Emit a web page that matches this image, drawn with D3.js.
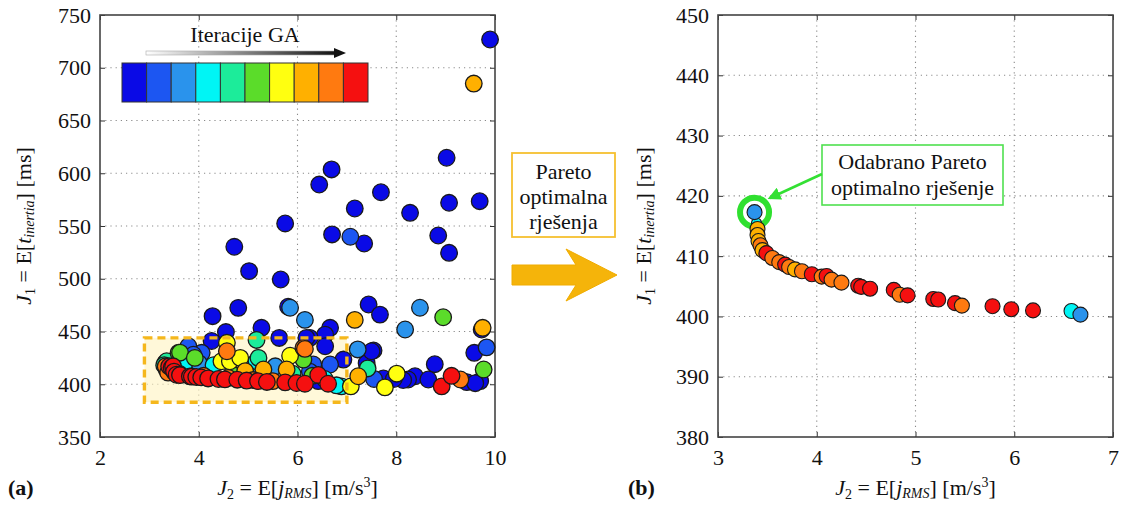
<!DOCTYPE html>
<html><head><meta charset="utf-8">
<script src="https://cdn.jsdelivr.net/npm/d3@7"></script>
<style>
body{margin:0;background:#fff;}
svg{display:block;}
svg text{font-family:"Liberation Serif","Times New Roman",serif !important;}
</style></head>
<body>
<svg id="chart" width="1123" height="508"></svg>
<script>
// ---------- DATA ----------
const palette = ["#0a0ae6","#1c56f2","#2a93ec","#00f5f5","#1cec9a","#5bdc2a","#ffff10","#ffb000","#ff7a10","#f51010"];
const legendTitle = "Iteracije GA";

const leftXTicks = [2,4,6,8,10];
const leftYTicks = [350,400,450,500,550,600,650,700,750];
const rightXTicks = [3,4,5,6,7];
const rightYTicks = [380,390,400,410,420,430,440,450];

// Panel (a): all GA solutions (J2, J1, iteration colour index)
const leftX = [9.90,9.57,9.02,6.69,6.44,7.69,7.16,9.07,9.69,8.28,5.75,6.70,7.07,7.35,8.85,9.07,4.72,5.02,5.66,4.80,4.28,7.44,7.67,5.81,5.85,6.15,8.48,8.95,7.16,
  4.55,5.27,6.66,6.56,6.25,4.26,5.17,5.63,6.18,6.12,8.18,9.73,9.75,9.58,9.83,9.77,8.78,7.54,7.22,7.40,7.42,7.23,7.08,7.77,8.01,8.38,8.24,8.65,8.92,9.12,9.30,9.43,9.70,9.60,7.74,8.14,7.95,7.55,6.89,6.79,6.56,6.93,6.32,6.66,6.25,6.42,7.50,
  4.57,4.57,4.46,4.80,4.63,4.84,5.17,5.21,5.85,6.12,6.15,3.79,4.06,3.59,3.62,3.89,3.92,3.32,3.35,5.31,5.78,4.94,5.05,5.55,4.30,3.70,4.00,4.70,5.90,6.30,6.55,3.30,3.36,3.42,
  3.40,3.45,3.48,3.50,3.55,3.62,3.82,3.86,3.95,4.05,4.19,4.40,4.53,4.78,4.97,5.20,5.38,5.75,5.98,6.15,6.42,6.62,3.35,3.33,3.38,3.60,4.10,4.60,5.10,5.50];
const leftY = [726.8,685,614.7,603.6,589.3,582,566.6,572,573.5,562.5,552.4,542,539.8,533.4,541,524.6,530.3,507.2,499.3,472.4,464.5,475.6,466,473.5,472.5,461,472.5,463.5,461,
  449.5,453.5,453.5,447,444,441,442,443.9,443.9,434.5,451.9,451.9,453.5,429.8,435,414,419,432,433,420,415,407.6,398,397,410,407.6,404.5,404.5,398,408,404.5,402,403,401,405.5,404,405,405,398,399,436,423.4,418.7,418.7,412,403,431.3,
  439.3,431.3,421.8,423.4,421.8,425,421.8,425,427,423.4,433.5,436,429.8,429.8,430,428,425,420,421.8,414,414,412.4,416,417,418,418,420,414,410,408,405,418,416,413,
  417,415.6,417,412,409,408.7,407.5,407.3,406.9,406.5,405.5,405,404.6,404.3,403.5,403,402.2,401.8,401.2,400.5,408.8,400.5,414,417,411,410,408,406,404,403];
const leftC = [0,7,0,0,0,0,0,0,0,0,0,0,1,0,0,0,0,0,0,0,0,0,0,0,2,2,2,5,7,
  0,0,0,0,0,0,4,0,0,8,2,0,7,0,1,5,0,0,2,0,4,7,6,6,6,0,0,0,9,9,8,0,0,0,0,0,0,1,3,3,0,0,1,1,1,0,0,
  6,8,6,6,6,6,3,4,6,5,8,1,1,5,5,1,5,4,4,7,7,7,2,2,3,3,2,5,4,5,3,4,5,3,
  9,9,9,9,9,9,9,9,9,9,9,9,9,9,9,9,9,9,9,9,9,9,8,8,8,8,8,8,8,8];

// Panel (b): Pareto optimal solutions
const rightX = [3.39,3.40,3.40,3.41,3.43,3.45,3.49,3.55,3.62,3.68,3.72,3.78,3.85,3.95,4.05,4.10,4.15,4.25,4.42,4.45,4.54,4.78,4.84,4.92,5.18,5.23,5.40,5.47,5.78,5.97,6.19,6.58,6.67,3.37];
const rightY = [415.5,414.5,413.5,412.5,411.8,411.0,410.5,409.7,409.0,408.6,408.2,407.8,407.5,407.0,406.6,406.7,406.1,405.6,405.1,404.9,404.6,404.4,403.6,403.5,402.9,402.8,402.2,401.8,401.7,401.2,401.0,400.9,400.3,417.3];
const rightC = [3,7,7,7,8,7,9,8,8,9,8,7,8,9,8,9,8,8,9,9,9,9,8,9,9,9,9,8,9,9,9,3,2,2];
const selectedIndex = 33;

const paretoBoxLines = ["Pareto","optimalna","rješenja"];
const annotationLines = ["Odabrano Pareto","optimalno rješenje"];
const highlightRect = {x0:2.9, x1:7.0, y0:383, y1:444};

// ---------- DRAWING ----------
const svg = d3.select("#chart");
const FONT = 22;
const SUB = 14;

function panel(opts){
  const {x, y, xTicks, yTicks, tag} = opts;
  const g = svg.append("g");
  const [x0,x1] = x.range(), [y0,y1] = y.range();
  const grid = g.append("g").attr("stroke","#8a8a8a").attr("stroke-width",1.1).attr("stroke-dasharray","1.2,4");
  grid.selectAll("line.gx").data(xTicks.slice(1,-1)).join("line")
    .attr("x1",d=>x(d)).attr("x2",d=>x(d)).attr("y1",y1).attr("y2",y0);
  grid.selectAll("line.gy").data(yTicks.slice(1,-1)).join("line")
    .attr("y1",d=>y(d)).attr("y2",d=>y(d)).attr("x1",x0).attr("x2",x1);
  const ax = g.append("g").attr("transform",`translate(0,${y0})`)
    .call(d3.axisBottom(x).tickValues(xTicks).tickFormat(d3.format("d")).tickSizeInner(-5).tickSizeOuter(0).tickPadding(12));
  const ay = g.append("g").attr("transform",`translate(${x0},0)`)
    .call(d3.axisLeft(y).tickValues(yTicks).tickFormat(d3.format("d")).tickSizeInner(-5).tickSizeOuter(0).tickPadding(9));
  const at = g.append("g").attr("transform",`translate(0,${y1})`)
    .call(d3.axisTop(x).tickValues(xTicks).tickFormat("").tickSizeInner(-5).tickSizeOuter(0));
  const ar = g.append("g").attr("transform",`translate(${x1},0)`)
    .call(d3.axisRight(y).tickValues(yTicks).tickFormat("").tickSizeInner(-5).tickSizeOuter(0));
  [ax,ay,at,ar].forEach(a=>{
    a.attr("font-family",null).attr("font-size",null);
    a.select(".domain").remove();
    a.selectAll("line").attr("stroke","#333");
    a.selectAll("text").style("font-size",FONT+"px").attr("fill","#111");
  });
  ax.selectAll("text").attr("dy","0.71em");
  g.append("rect").attr("x",x0).attr("y",y1).attr("width",x1-x0).attr("height",y0-y1)
    .attr("fill","none").attr("stroke","#444").attr("stroke-width",1.6);
  const cx = (x0+x1)/2;
  const xt = svg.append("text").attr("x",cx).attr("y",495).attr("text-anchor","middle").attr("font-size",FONT).attr("fill","#111");
  xt.append("tspan").attr("font-style","italic").text("J");
  xt.append("tspan").attr("font-size",SUB).attr("dy",4).text("2");
  xt.append("tspan").attr("dy",-4).text(" = E[");
  xt.append("tspan").attr("font-style","italic").text("j");
  xt.append("tspan").attr("font-style","italic").attr("font-size",SUB).attr("dy",3).text("RMS");
  xt.append("tspan").attr("dy",-3).text("] [m/s");
  xt.append("tspan").attr("font-size",SUB).attr("dy",-8).text("3");
  xt.append("tspan").attr("dy",8).text("]");
  svg.append("text").attr("x",tag.x).attr("y",495).attr("font-weight","bold").attr("font-size",FONT).attr("fill","#111").text(tag.t);
  const cy = (y0+y1)/2;
  const yt = svg.append("text").attr("transform",`translate(${opts.ylx},${cy}) rotate(-90)`).attr("text-anchor","middle").attr("font-size",FONT).attr("fill","#111");
  yt.append("tspan").attr("font-style","italic").text("J");
  yt.append("tspan").attr("font-size",SUB).attr("dy",4).text("1");
  yt.append("tspan").attr("dy",-4).text(" = E[");
  yt.append("tspan").attr("font-style","italic").text("t");
  yt.append("tspan").attr("font-style","italic").attr("font-size",SUB).attr("dy",3).text("inertia");
  yt.append("tspan").attr("dy",-3).text("] [ms]");
  return g;
}

// ---- Panel (a)
const xa = d3.scaleLinear([2,10],[100,495]);
const ya = d3.scaleLinear([350,750],[437,15]);
const ga = panel({x:xa,y:ya,xTicks:leftXTicks,yTicks:leftYTicks,tag:{x:8,t:"(a)"},ylx:31});

ga.append("rect")
  .attr("x",xa(highlightRect.x0)).attr("y",ya(highlightRect.y1))
  .attr("width",xa(highlightRect.x1)-xa(highlightRect.x0)).attr("height",ya(highlightRect.y0)-ya(highlightRect.y1))
  .attr("fill","#fff3c0").attr("fill-opacity",0.6);

const leftData = leftX.map((d,i)=>({x:d,y:leftY[i],c:leftC[i],i}));
leftData.sort((a,b)=>a.c-b.c || a.i-b.i);
ga.append("g").selectAll("circle").data(leftData).join("circle")
  .attr("cx",d=>xa(d.x)).attr("cy",d=>ya(d.y)).attr("r",8.3)
  .attr("fill",d=>palette[d.c]).attr("stroke","#1a1a1a").attr("stroke-width",1.3);

ga.append("rect")
  .attr("x",xa(highlightRect.x0)).attr("y",ya(highlightRect.y1))
  .attr("width",xa(highlightRect.x1)-xa(highlightRect.x0)).attr("height",ya(highlightRect.y0)-ya(highlightRect.y1))
  .attr("fill","none").attr("stroke","#f5b71c").attr("stroke-width",3.4).attr("stroke-dasharray","8,5");

// legend
const lg = svg.append("g");
const lx = d3.scaleBand().domain(d3.range(palette.length)).range([122,368]);
lg.selectAll("rect").data(palette).join("rect")
  .attr("x",(d,i)=>lx(i)).attr("y",63).attr("width",lx.bandwidth()).attr("height",39)
  .attr("fill",d=>d).attr("stroke","#333").attr("stroke-width",1);
lg.append("text").attr("x",245).attr("y",42).attr("text-anchor","middle").attr("font-size",FONT).attr("fill","#111").text(legendTitle);
const defs = svg.append("defs");
const grad = defs.append("linearGradient").attr("id","gaGrad");
grad.append("stop").attr("offset","0%").attr("stop-color","#ffffff");
grad.append("stop").attr("offset","100%").attr("stop-color","#111");
lg.append("rect").attr("x",146).attr("y",51).attr("width",190).attr("height",4).attr("fill","url(#gaGrad)").attr("stroke","#aaa").attr("stroke-width",0.6);
lg.append("path").attr("d","M334,48 L346,53 L334,58 Z").attr("fill","#111");

// ---- Panel (b)
const xb = d3.scaleLinear([3,7],[718,1113]);
const yb = d3.scaleLinear([380,450],[437,15]);
const gb = panel({x:xb,y:yb,xTicks:rightXTicks,yTicks:rightYTicks,tag:{x:628,t:"(b)"},ylx:651});

const rightData = rightX.map((d,i)=>({x:d,y:rightY[i],c:rightC[i],i}));
gb.append("circle").attr("cx",xb(rightX[selectedIndex])).attr("cy",yb(rightY[selectedIndex])).attr("r",14.5)
  .attr("fill","none").attr("stroke","#2fe02f").attr("stroke-width",6);
gb.append("g").selectAll("circle").data(rightData).join("circle")
  .attr("cx",d=>xb(d.x)).attr("cy",d=>yb(d.y)).attr("r",d=>d.i===0?5:7.5)
  .attr("fill",d=>palette[d.c]).attr("stroke","#1a1a1a").attr("stroke-width",1.1);

// annotation box
const ab = svg.append("g");
ab.append("rect").attr("x",822).attr("y",145).attr("width",181).attr("height",60)
  .attr("fill","#fff").attr("stroke","#4fe04f").attr("stroke-width",1.6);
ab.selectAll("text").data(annotationLines).join("text")
  .attr("x",912.5).attr("y",(d,i)=>169+i*26).attr("text-anchor","middle").attr("font-size",FONT).attr("fill","#111").text(d=>d);
defs.append("marker").attr("id","gHead").attr("viewBox","0 0 10 10").attr("refX",8).attr("refY",5)
  .attr("markerWidth",5).attr("markerHeight",5).attr("orient","auto")
  .append("path").attr("d","M0,0 L10,5 L0,10 Z").attr("fill","#33e033");
ab.append("line").attr("x1",822).attr("y1",174).attr("x2",770).attr("y2",198)
  .attr("stroke","#33e033").attr("stroke-width",2.6).attr("marker-end","url(#gHead)");

// middle box and arrow
const mb = svg.append("g");
mb.append("rect").attr("x",512).attr("y",153).attr("width",103).attr("height",84)
  .attr("fill","#fff").attr("stroke","#f5c030").attr("stroke-width",1.8);
mb.selectAll("text").data(paretoBoxLines).join("text")
  .attr("x",563.5).attr("y",(d,i)=>179+i*25).attr("text-anchor","middle").attr("font-size",FONT).attr("fill","#111").text(d=>d);
mb.append("path").attr("d","M512,265 L576,265 L566,249 L617,275 L566,301 L576,285 L512,285 Z")
  .attr("fill","#f5b40a").attr("stroke","#f0ac00").attr("stroke-width",1);
</script>
</body></html>
